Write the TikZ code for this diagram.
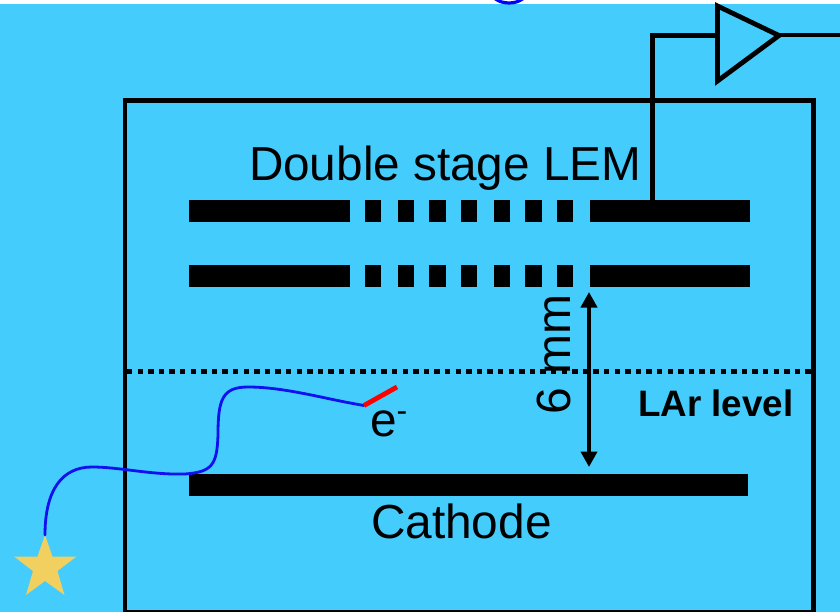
\documentclass[tikz,border=0pt]{standalone}
\usepackage{fontspec}
\setmainfont{Liberation Sans}
\usetikzlibrary{arrows.meta}
\definecolor{bgblue}{HTML}{44CCFC}
\definecolor{starcol}{HTML}{F2D060}
\definecolor{wireblue}{HTML}{1010F0}
\tikzset{
  x=1pt,y=-1pt,
  bar/.style={fill=black,draw=none,inner sep=0pt,outer sep=0pt,anchor=north west,minimum height=21.7pt},
  lbl/.style={inner sep=0pt,outer sep=0pt,text=black},
  heavy/.style={line width=4.6pt,black},
  wire/.style={line width=4.8pt,black,line join=miter},
  track/.style={line width=2.8pt,wireblue,line cap=round},
}
\newcommand{\lemrow}[2]{%
  \node[bar,minimum width=161pt] (#1L) at (189,#2) {};
  \node[bar,minimum width=16pt] (#1a) at (364.5,#2) {};
  \node[bar,minimum width=16.5pt] (#1b) at (397.7,#2) {};
  \node[bar,minimum width=16.4pt] (#1c) at (429.3,#2) {};
  \node[bar,minimum width=16pt] (#1d) at (460.7,#2) {};
  \node[bar,minimum width=16.3pt] (#1e) at (494,#2) {};
  \node[bar,minimum width=16.4pt] (#1f) at (525.3,#2) {};
  \node[bar,minimum width=16pt] (#1g) at (556.7,#2) {};
  \node[bar,minimum width=160.3pt] (#1R) at (590,#2) {};
}
\begin{document}
\begin{tikzpicture}
\useasboundingbox (0,0) rectangle (840,612);
\fill[white] (0,0) rectangle (840,612);
\fill[bgblue] (0,4) rectangle (840,612);
% clipped glyph at top edge
\begin{scope}
\clip (480,0) rectangle (540,4.4);
\draw[line width=3.2pt,blue] (509,-9) ellipse [x radius=18,y radius=12];
\end{scope}
% vessel
\draw[heavy,line join=miter] (125,612) -- (125,100.4) -- (813.2,100.4) -- (813.2,612);
\draw[line width=2.4pt,black] (125,610.8) -- (813.2,610.8);
% LAr level
\coordinate (lvlL) at (127,371.8);
\coordinate (lvlR) at (811,371.8);
\draw[line width=5.2pt,black,dash pattern=on 5.3pt off 5.3pt] (lvlL) -- (lvlR);
% LEM
\lemrow{u}{200}
\lemrow{l}{265}
\node[bar,minimum width=559pt] (cath) at (189,474) {};
% amplifier
\coordinate (ampL) at (717.5,35.5);
\coordinate (ampTip) at (779,35.5);
\coordinate (wireC) at (652.7,35.5);
\coordinate (wireOut) at (840,35.5);
\coordinate (wireB) at (652.7,200);
\draw[wire,line join=miter] (717.5,6) -- (ampTip) -- (717.5,81) -- cycle;
\draw[wire] (wireB) -- (wireC) -- (ampL);
\draw[line width=4pt,black] (ampTip) -- (wireOut);
% dimension arrow
\coordinate (dimT) at (589,292);
\coordinate (dimB) at (589,467);
\draw[line width=4pt,black,{Triangle[length=15.5pt,width=16pt]}-{Triangle[length=15.5pt,width=16pt]}] (dimT) -- (dimB);
% texts
\node[lbl,font=\fontsize{47.7}{48}\selectfont,anchor=base west] (lemt) at (249,181) {Double stage LEM};
\node[lbl,font=\fontsize{48}{48}\selectfont,anchor=base west,rotate=90] (dimt) at (570,414) {6 mm};
\node[lbl,font=\fontsize{36.8}{37}\selectfont\bfseries,anchor=base west] (lar) at (638,416) {LAr level};
\node[lbl,font=\fontsize{47.8}{48}\selectfont,anchor=base west] (catht) at (371,538) {Cathode};
\node[lbl,font=\fontsize{47.8}{48}\selectfont,anchor=base west] (et) at (370,436) {e\raisebox{15pt}{\fontsize{32}{32}\selectfont -}};
% star
\coordinate (starTop) at (45,535);
\fill[starcol] (starTop) -- (52.5,556.5) -- (76.5,556.5) -- (57.5,571) -- (64.5,595) -- (45,581) -- (26,595) -- (33,571) -- (14,556.5) -- (37.5,556.5) -- cycle;
% track
\coordinate (hit) at (364,405.5);
\coordinate (redEnd) at (397,387);
\draw[track] (starTop) .. controls (45,490) and (62,467) .. (92,467)
  .. controls (120,467) and (150,475) .. (185,474)
  .. controls (212,472) and (217,465) .. (218,435)
  .. controls (218,400) and (222,387) .. (248,387)
  .. controls (285,387) and (325,399) .. (hit);
\draw[line width=4.8pt,red] (hit) -- (redEnd);
\end{tikzpicture}
\end{document}
